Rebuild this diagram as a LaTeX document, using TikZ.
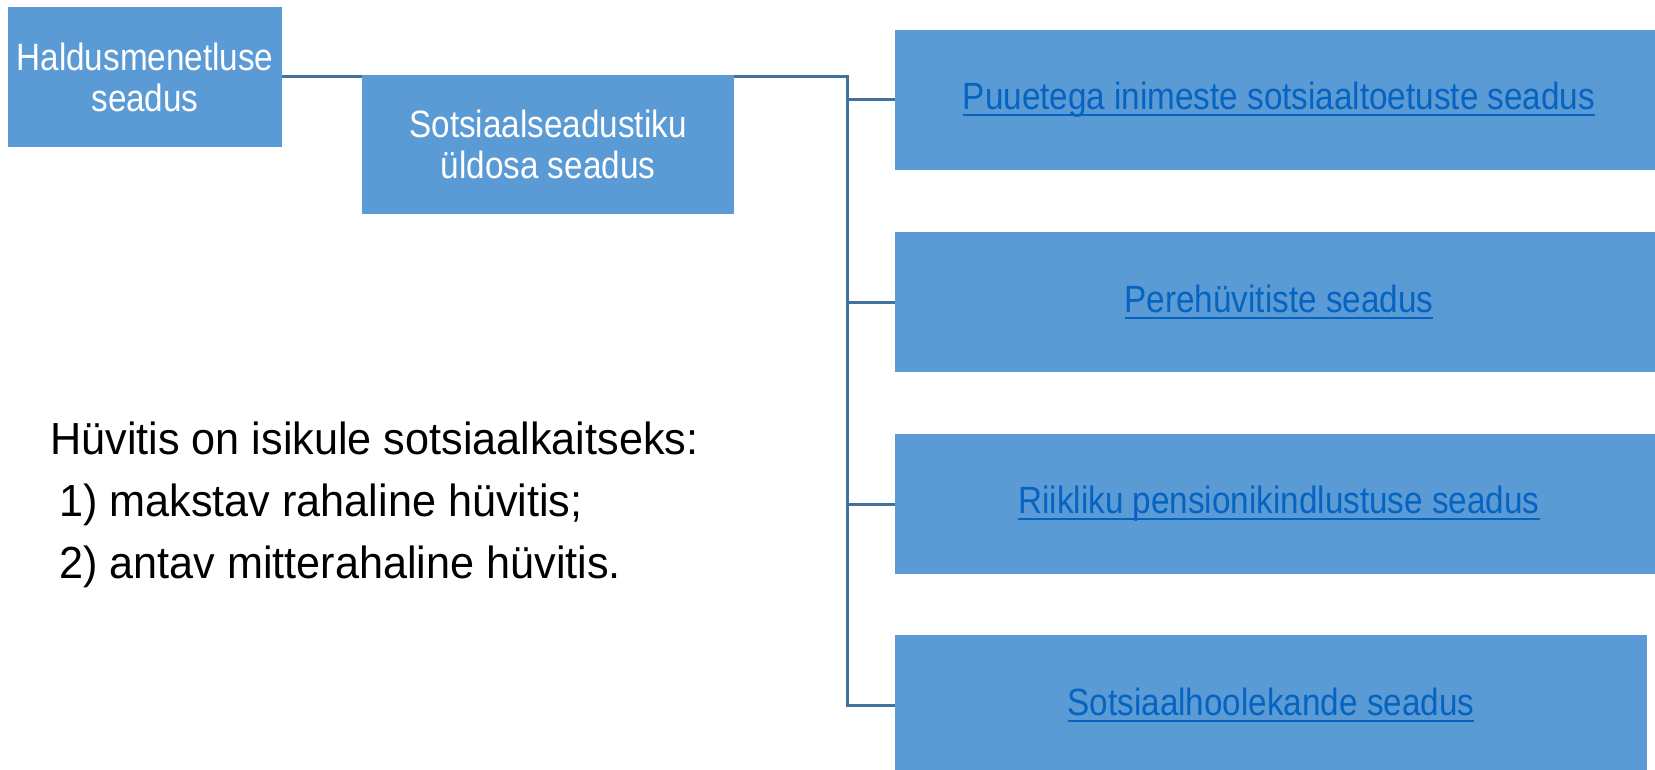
\documentclass[tikz,border=0pt]{standalone}
\usepackage{fontspec}
\setmainfont{Liberation Sans}[FakeStretch=0.875]
\newfontfamily\bodyfont{Liberation Sans}[FakeStretch=0.96]
\newcommand\linkul[1]{\setbox0\hbox{#1}\rlap{\rule[-6pt]{\wd0}{2pt}}\box0}
\definecolor{boxblue}{HTML}{5B9BD5}
\definecolor{linkblue}{HTML}{0563C1}
\definecolor{lineblue}{HTML}{41719C}
\begin{document}
\begin{tikzpicture}[x=1pt,y=-1pt,
  box/.style={fill=boxblue,draw=none,inner sep=0pt,align=center,
    font=\fontsize{38}{41}\selectfont},
  whitebox/.style={box,text=white},
  linkbox/.style={box,text=linkblue,minimum width=768pt,minimum height=140pt},
  conn/.style={draw=lineblue,line width=3pt},
  bodytext/.style={anchor=base west,inner sep=0pt,text=black,
    font=\bodyfont\fontsize{45}{62}\selectfont}]
\useasboundingbox (0,0) rectangle (1655,770);
\node[whitebox,minimum width=274pt,minimum height=140pt] (hald) at (145,77)
  {Haldusmenetluse\\seadus};
\node[whitebox,minimum width=372pt,minimum height=139pt] (sots) at (548,144.5)
  {Sotsiaalseadustiku\\üldosa seadus};
\node[linkbox] (puue) at (1279,100) {\linkul{Puuetega inimeste sotsiaaltoetuste seadus}};
\node[linkbox] (pere) at (1279,302) {\linkul{Perehüvitiste seadus}};
\node[linkbox] (riik) at (1279,504) {\linkul{Riikliku pensionikindlustuse seadus}};
\node[linkbox,minimum width=752pt] (hool) at (1271,705) {\linkul{Sotsiaalhoolekande seadus}};
\coordinate (trunk) at (847,77);
\draw[conn] (hald.east) -- (hald.east -| sots.west);
\draw[conn] (sots.north east |- hald.east) -- (trunk) -- (trunk |- hool.west) -- (hool.west);
\draw[conn] (trunk |- puue.west) -- (puue.west);
\draw[conn] (trunk |- pere.west) -- (pere.west);
\draw[conn] (trunk |- riik.west) -- (riik.west);
\node[bodytext] (l1) at (50,454) {Hüvitis on isikule sotsiaalkaitseks:};
\node[bodytext] (l2) at (59,516) {1) makstav rahaline hüvitis;};
\node[bodytext] (l3) at (59,578) {2) antav mitterahaline hüvitis.};
\end{tikzpicture}
\end{document}
